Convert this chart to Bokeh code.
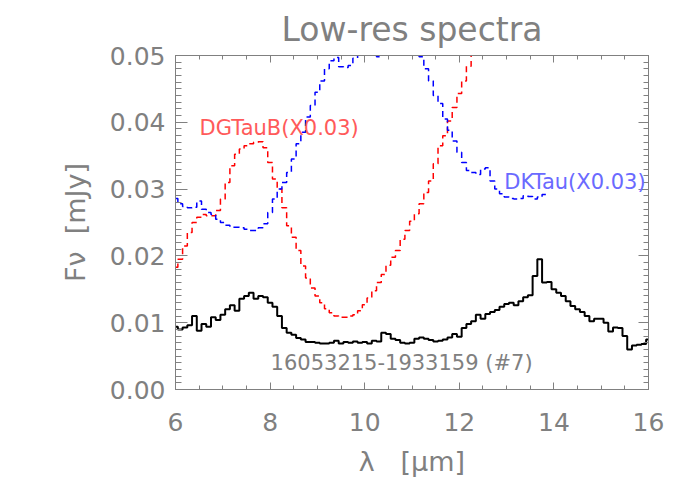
from bokeh.plotting import figure
from bokeh.models import LinearAxis, SingleIntervalTicker, PrintfTickFormatter, Range1d, Label
from bokeh.embed import file_html
from bokeh.resources import INLINE

# ---- data ----
wave = [6.0, 6.1, 6.2, 6.3, 6.4, 6.5, 6.6, 6.7, 6.8, 6.9,
        7.0, 7.1, 7.2, 7.3, 7.4, 7.5, 7.6, 7.7, 7.8, 7.9,
        8.0, 8.1, 8.2, 8.3, 8.4, 8.5, 8.6, 8.7, 8.8, 8.9,
        9.0, 9.1, 9.2, 9.3, 9.4, 9.5, 9.6, 9.7, 9.8, 9.9,
        10.0, 10.1, 10.2, 10.3, 10.4, 10.5, 10.6, 10.7, 10.8, 10.9,
        11.0, 11.1, 11.2, 11.3, 11.4, 11.5, 11.6, 11.7, 11.8, 11.9,
        12.0, 12.1, 12.2, 12.3, 12.4, 12.5, 12.6, 12.7, 12.8, 12.9,
        13.0, 13.1, 13.2, 13.3, 13.4, 13.5, 13.6, 13.7, 13.8, 13.9,
        14.0, 14.1, 14.2, 14.3, 14.4, 14.5, 14.6, 14.7, 14.8, 14.9,
        15.0, 15.1, 15.2, 15.3, 15.4, 15.5, 15.6, 15.7, 15.8, 15.9,
        16.0]

flux_target = [0.0094, 0.0090, 0.0093, 0.0096, 0.0110, 0.0088, 0.0098, 0.0094, 0.0108, 0.0104,
               0.0112, 0.0120, 0.0126, 0.0118, 0.0136, 0.0140, 0.0145, 0.0136, 0.0140, 0.0138,
               0.0130, 0.0124, 0.0110, 0.0092, 0.0085, 0.0082, 0.0077, 0.0075, 0.0071, 0.0071,
               0.0070, 0.0069, 0.0069, 0.0070, 0.0073, 0.0069, 0.0071, 0.0070, 0.0072, 0.0070,
               0.0071, 0.0069, 0.0073, 0.0072, 0.0085, 0.0083, 0.0076, 0.0074, 0.0070, 0.0069,
               0.0070, 0.0076, 0.0078, 0.0076, 0.0074, 0.0072, 0.0073, 0.0075, 0.0078, 0.0083,
               0.0079, 0.0092, 0.0098, 0.0102, 0.0112, 0.0106, 0.0113, 0.0116, 0.0119, 0.0124,
               0.0128, 0.0130, 0.0126, 0.0132, 0.0138, 0.0141, 0.0170, 0.0195, 0.0160, 0.0161,
               0.0150, 0.0145, 0.0140, 0.0132, 0.0125, 0.0120, 0.0116, 0.0110, 0.0102, 0.0106,
               0.0106, 0.0100, 0.0087, 0.0093, 0.0092, 0.0080, 0.0060, 0.0066, 0.0067, 0.0068,
               0.0075]

# DGTauB scaled by 0.03 (6.0 - 12.6 um)
flux_dgtaub = [0.0183, 0.0195, 0.0215, 0.0235, 0.0250, 0.0258, 0.0262, 0.0260, 0.0260, 0.0268,
               0.0285, 0.0310, 0.0335, 0.0352, 0.0360, 0.0365, 0.0368, 0.0370, 0.0371, 0.0362,
               0.0340, 0.0315, 0.0300, 0.0272, 0.0245, 0.0228, 0.0208, 0.0185, 0.0167, 0.0152,
               0.0140, 0.0130, 0.0121, 0.0115, 0.0110, 0.0108, 0.0108, 0.0110, 0.0112, 0.0118,
               0.0127, 0.0137, 0.0148, 0.0160, 0.0172, 0.0186, 0.0198, 0.0208, 0.0225, 0.0238,
               0.0252, 0.0263, 0.0278, 0.0295, 0.0312, 0.0338, 0.0365, 0.0380, 0.0402, 0.0422,
               0.0443, 0.0462, 0.0484, 0.0505, 0.0525, 0.0545, 0.0565]

# DKTau scaled by 0.03 (6.0 - 13.9 um)
flux_dktau = [0.0286, 0.0278, 0.0274, 0.0272, 0.0273, 0.0282, 0.0270, 0.0265, 0.0262, 0.0255,
              0.0250, 0.0246, 0.0243, 0.0243, 0.0242, 0.0240, 0.0238, 0.0238, 0.0242, 0.0248,
              0.0265, 0.0285, 0.0300, 0.0310, 0.0325, 0.0345, 0.0368, 0.0385, 0.0408, 0.0425,
              0.0445, 0.0462, 0.0480, 0.0492, 0.0497, 0.0483, 0.0482, 0.0485, 0.0496, 0.0510,
              0.0520, 0.0525, 0.0530, 0.0498, 0.0515, 0.0530, 0.0530, 0.0530, 0.0525, 0.0515,
              0.0505, 0.0508, 0.0498, 0.0480, 0.0462, 0.0440, 0.0428, 0.0405, 0.0388, 0.0372,
              0.0355, 0.0340, 0.0328, 0.0325, 0.0322, 0.0330, 0.0332, 0.0312, 0.0300, 0.0293,
              0.0288, 0.0286, 0.0285, 0.0286, 0.0290, 0.0289, 0.0285, 0.0288, 0.0292, 0.0293]

label_text = ["DGTauB(X0.03)", "DKTau(X0.03)", "16053215-1933159 (#7)"]
label_x = [6.51, 12.95, 8.01]
label_y = [0.0391, 0.0310, 0.0040]
label_color = ["#ff5a5a", "#6a6aff", "#808080"]

GRAY = "#808080"
FONT = "DejaVu Sans"
NB = "\u00a0"

p = figure(width=684, height=484, output_backend="svg", toolbar_location=None,
           x_range=Range1d(6, 16), y_range=Range1d(0, 0.05),
           min_border_left=175, min_border_right=36, min_border_top=55, min_border_bottom=95)
p.background_fill_color = "white"
p.border_fill_color = "white"
p.outline_line_color = None
p.xgrid.visible = False
p.ygrid.visible = False

p.title.text = "Low-res spectra"
p.title.align = "center"
p.title.text_font = FONT
p.title.text_font_size = "33px"
p.title.text_font_style = "normal"
p.title.text_color = GRAY
p.title.standoff = 14

def style_axis(ax, major_in, minor_in, labels=True):
    ax.axis_line_color = GRAY
    ax.major_tick_line_color = GRAY
    ax.minor_tick_line_color = GRAY
    ax.major_tick_in = major_in
    ax.major_tick_out = 0
    ax.minor_tick_in = minor_in
    ax.minor_tick_out = 0
    ax.major_label_text_font = FONT
    ax.major_label_text_color = GRAY
    ax.axis_label_text_font = FONT
    ax.axis_label_text_color = GRAY
    ax.axis_label_text_font_style = "normal"
    if not labels:
        ax.major_label_text_color = None
        ax.major_label_text_font_size = "1px"
        ax.major_label_standoff = 0

xa = p.xaxis[0]
xa.ticker = SingleIntervalTicker(interval=2, num_minor_ticks=4)
style_axis(xa, 7, 4)
xa.major_label_text_font_size = "25px"
xa.major_label_standoff = 23
xa.axis_label = "λ" + NB * 3 + "[μm]"
xa.axis_label_text_font_size = "27px"
xa.axis_label_standoff = 12

ya = p.yaxis[0]
ya.ticker = SingleIntervalTicker(interval=0.01, num_minor_ticks=10)
style_axis(ya, 12, 6)
ya.formatter = PrintfTickFormatter(format="%.2f")
ya.major_label_text_font_size = "25px"
ya.major_label_standoff = 10
ya.axis_label = "Fν" + NB * 2 + "[mJy]"
ya.axis_label_text_font_size = "27px"
ya.axis_label_standoff = 16

top = LinearAxis(ticker=SingleIntervalTicker(interval=2, num_minor_ticks=4))
style_axis(top, 7, 4, labels=False)
p.add_layout(top, "above")
right = LinearAxis(ticker=SingleIntervalTicker(interval=0.01, num_minor_ticks=10))
style_axis(right, 10, 5, labels=False)
p.add_layout(right, "right")

p.step(x=wave[:len(flux_dgtaub)], y=flux_dgtaub, mode="center",
       line_color="red", line_width=1.5, line_dash="6 4")
p.step(x=wave[:len(flux_dktau)], y=flux_dktau, mode="center",
       line_color="blue", line_width=1.5, line_dash="6 4")
p.step(x=wave, y=flux_target, mode="center", line_color="black", line_width=2)

for t, x, y, c in zip(label_text, label_x, label_y, label_color):
    p.add_layout(Label(x=x, y=y, text=t, text_color=c, text_font=FONT,
                       text_font_size="21px", text_align="left", text_baseline="middle"))

open("out.html", "w").write(file_html(p, INLINE))
